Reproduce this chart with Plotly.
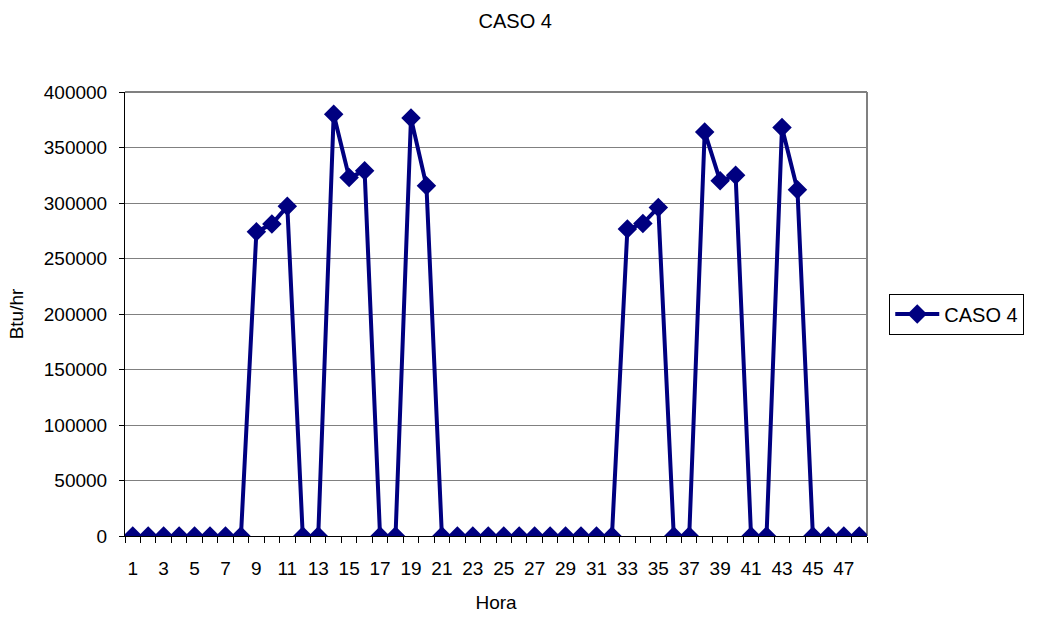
import plotly.graph_objects as go

hours = list(range(1, 49))
caso4 = [0, 0, 0, 0, 0, 0, 0, 0,
         274000, 281000, 297000, 0, 0, 380000, 323000, 329000,
         0, 0, 376500, 315500, 0, 0, 0, 0,
         0, 0, 0, 0, 0, 0, 0, 0,
         276500, 281500, 296000, 0, 0, 364000, 320000, 325000,
         0, 0, 368000, 312000, 0, 0, 0, 0]
x_tick_vals = list(range(1, 49, 2))
x_tick_text = [str(v) for v in x_tick_vals]
y_tick_vals = list(range(0, 400001, 50000))

FONT = "Liberation Sans, Arial, sans-serif"

fig = go.Figure()
fig.add_trace(go.Scatter(
    x=hours, y=caso4, mode="lines+markers", name="CASO 4",
    line=dict(color="#000080", width=4),
    marker=dict(symbol="diamond", size=15, color="#000080"),
))

fig.update_layout(
    width=1043, height=617,
    margin=dict(l=125, r=176, t=92, b=81, autoexpand=False),
    paper_bgcolor="white", plot_bgcolor="white",
    font=dict(family=FONT, size=19, color="black"),
    title=dict(text="CASO 4", x=0.494, xref="container", y=0.966, yref="container",
               xanchor="center", yanchor="middle", font=dict(size=20)),
    showlegend=True,
    legend=dict(x=1.03, y=0.5, xanchor="left", yanchor="middle",
                bordercolor="black", borderwidth=1, bgcolor="white",
                font=dict(size=20), itemwidth=44),
    xaxis=dict(
        range=[0.5, 48.5], tickmode="array", tickvals=x_tick_vals, ticktext=x_tick_text,
        ticks="", showgrid=False, zeroline=False, ticklabelstandoff=15,
        showline=True, linecolor="black", linewidth=1, automargin=False,
        minor=dict(ticks="outside", tick0=0.5, dtick=1, ticklen=6, tickcolor="black", showgrid=False),
        title=dict(text="Hora", standoff=17, font=dict(size=19)),
        mirror=False,
    ),
    yaxis=dict(
        range=[0, 400000], tickmode="array", tickvals=y_tick_vals,
        ticks="outside", ticklen=5, tickcolor="black", ticklabelstandoff=8,
        showgrid=True, gridcolor="#808080", gridwidth=1, zeroline=False,
        showline=True, linecolor="black", linewidth=1, automargin=False,
        title=dict(text="Btu/hr", standoff=15, font=dict(size=19)),
        tickformat="d",
    ),
    shapes=[
        dict(type="line", xref="paper", yref="paper", x0=1, x1=1, y0=0, y1=1,
             line=dict(color="#808080", width=2), layer="below"),
        dict(type="line", xref="paper", yref="paper", x0=0, x1=1, y0=1, y1=1,
             line=dict(color="#808080", width=2), layer="below"),
    ],
)

fig.write_html("out.html")
